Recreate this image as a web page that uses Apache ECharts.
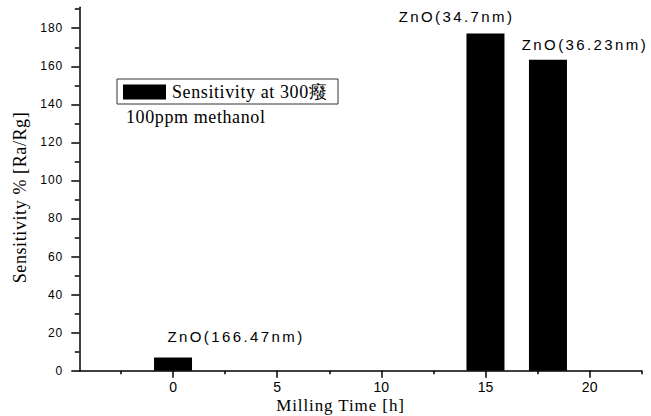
<!DOCTYPE html>
<html>
<head>
<meta charset="utf-8">
<script src="https://cdn.jsdelivr.net/npm/echarts@6/dist/echarts.min.js"></script>
<style>
  html, body { margin: 0; padding: 0; background: #fff; overflow: hidden; }
  #chart { width: 651px; height: 416px; }
  #chart text[style*="15px"] { letter-spacing: 2.4px; }
  #chart text[style*="12px"] { letter-spacing: 1px; }
  #chart text[style*="Serif"] { letter-spacing: 0.6px; }
  #chart text[style*="17px"] { letter-spacing: 0.9px; }
</style>
</head>
<body>
<div id="chart"></div>
<script>
// ---- data ----
const millingTime = [0, 15, 18];
const sensitivity = [7, 177.2, 163.4];
const barLabels = ['ZnO(166.47nm)', 'ZnO(34.7nm)', 'ZnO(36.23nm)'];
const xMajorTicks = [0, 5, 10, 15, 20];
const xMinorTicks = [-2.5, 2.5, 7.5, 12.5, 17.5, 22.5];
const yMajorTicks = [0, 20, 40, 60, 80, 100, 120, 140, 160, 180];
const yMinorTicks = [10, 30, 50, 70, 90, 110, 130, 150, 170, 190];
const seriesName = 'Sensitivity at 300癈';
const noteText = '100ppm methanol';
const xTitle = 'Milling Time [h]';
const yTitle = 'Sensitivity % [Ra/Rg]';

// ---- style ----
const labelOffsets = [[63, -13], [-29, -10], [37, -8]];
const SANS = 'Liberation Sans';
const SERIF = 'Liberation Serif';
const xMin = -4.5, xMax = 22.5, yMin = 0, yMax = 191;

const chart = echarts.init(document.getElementById('chart'), null, { renderer: 'svg' });

const barData = millingTime.map((t, i) => ({
  value: [t, sensitivity[i]],
  label: { formatter: barLabels[i], offset: labelOffsets[i] }
}));

function ls() { return { color: '#000', width: 1.5 }; }

chart.setOption({
  animation: false,
  backgroundColor: '#fff',
  grid: { left: 79.3, right: 9.3, top: 7.3, bottom: 45.3, containLabel: false, outerBoundsMode: 'none' },
  legend: {
    left: 117, top: 79,
    padding: [4, 22, 3, 6],
    borderColor: '#333', borderWidth: 1,
    itemWidth: 43, itemHeight: 15, itemGap: 6,
    icon: 'rect',
    textStyle: { fontFamily: SERIF, fontSize: 18, color: '#000', padding: [0, 0, 0, 1] },
    data: [seriesName]
  },
  xAxis: [
    {
      type: 'value', min: xMin, max: xMax, position: 'bottom',
      axisLine: { show: false, onZero: false },
      axisTick: { show: true, inside: false, length: 3.5, customValues: xMinorTicks, lineStyle: ls() },
      axisLabel: { show: false },
      splitLine: { show: false }
    },
    {
      type: 'value', min: xMin, max: xMax, position: 'bottom',
      name: xTitle, nameLocation: 'middle', nameGap: 27, nameMoveOverlap: false,
      nameTextStyle: { fontFamily: SERIF, fontSize: 17, lineHeight: 16, color: '#000', padding: [0, 40, 0, 0] },
      axisLine: { show: true, onZero: false, lineStyle: ls() },
      axisTick: { show: true, inside: false, length: 7, customValues: xMajorTicks, lineStyle: ls() },
      axisLabel: { customValues: xMajorTicks, margin: 10, fontFamily: SANS, fontSize: 14, lineHeight: 13, color: '#000' },
      splitLine: { show: false }
    }
  ],
  yAxis: [
    {
      type: 'value', min: yMin, max: yMax, position: 'left',
      axisLine: { show: false, onZero: false },
      axisTick: { show: true, inside: false, length: 4.5, customValues: yMinorTicks, lineStyle: ls() },
      axisLabel: { show: false },
      splitLine: { show: false }
    },
    {
      type: 'value', min: yMin, max: yMax, position: 'left',
      name: yTitle, nameLocation: 'middle', nameGap: 50, nameMoveOverlap: false,
      nameTextStyle: { fontFamily: SERIF, fontSize: 18, color: '#000', padding: [0, 17, 0, 0] },
      axisLine: { show: true, onZero: false, lineStyle: ls() },
      axisTick: { show: true, inside: false, length: 8, customValues: yMajorTicks, lineStyle: ls() },
      axisLabel: { customValues: yMajorTicks, margin: 16, fontFamily: SANS, fontSize: 12, color: '#000' },
      splitLine: { show: false }
    }
  ],
  graphic: [
    {
      type: 'text', left: 126, top: 108,
      style: { text: noteText, font: '18px "Liberation Serif"', fill: '#000' }
    }
  ],
  series: [
    {
      name: seriesName,
      type: 'bar',
      xAxisIndex: 1, yAxisIndex: 1,
      barWidth: 38,
      itemStyle: { color: '#000' },
      label: {
        show: true, position: 'top', distance: 0,
        fontFamily: SANS, fontSize: 15, color: '#000'
      },
      data: barData
    }
  ]
});
</script>
</body>
</html>
